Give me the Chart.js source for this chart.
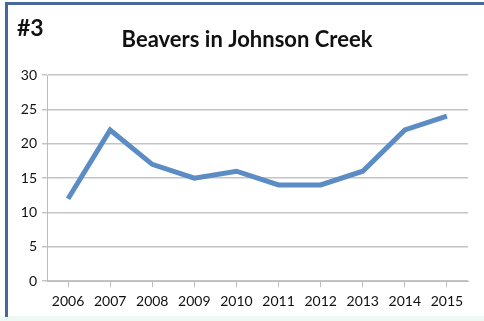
<!DOCTYPE html>
<html>
<head>
<meta charset="utf-8">
<script src="https://cdn.jsdelivr.net/npm/chart.js@4"></script>
<style>
  html, body { margin: 0; padding: 0; background: #fff; }
  #wrap { position: relative; width: 484px; height: 321px; }
</style>
</head>
<body>
<div id="wrap"><canvas id="beavers" width="484" height="321"></canvas></div>
<script>
const years = ['2006','2007','2008','2009','2010','2011','2012','2013','2014','2015']
const beaverCounts = [12, 22, 17, 15, 16, 14, 14, 16, 22, 24]
const yTicks = [0, 5, 10, 15, 20, 25, 30]
const titleText = 'Beavers in Johnson Creek'
const slideTag = '#3'

const fontFam = "Lato, 'Open Sans', sans-serif"

// frame lines + headings drawn straight onto the canvas
const framePlugin = {
  id: 'frame',
  beforeDraw(chart) {
    const c = chart.ctx
    c.save()
    c.fillStyle = '#fff'
    c.fillRect(0, 0, chart.width, chart.height)
    c.fillStyle = '#eef9f4'
    c.fillRect(0, 316, chart.width, 5)
    c.fillStyle = '#46689a'
    c.fillRect(5, 2, 3, 315)
    c.fillRect(5, 2, chart.width - 5, 3)
    c.restore()
  },
  afterDraw(chart) {
    const c = chart.ctx
    c.save()
    c.fillStyle = '#111'
    c.textBaseline = 'middle'
    c.font = 'bold 23px ' + fontFam
    c.textAlign = 'left'
    c.fillText(slideTag, 17, 29)
    c.font = 'bold 22px ' + fontFam
    c.textAlign = 'center'
    c.fillText(titleText, 247, 40)
    c.restore()
  }
}

let graph = new Chart(document.getElementById('beavers').getContext('2d'), {
  type: 'line',
  data: {
    labels: years,
    datasets: [{
      label: 'Beavers',
      data: beaverCounts,
      borderColor: '#5b8cc4',
      borderWidth: 5,
      pointRadius: 0,
      tension: 0,
      borderJoinStyle: 'miter'
    }]
  },
  options: {
    responsive: false,
    animation: false,
    layout: { padding: { left: 10, right: 16, top: 75, bottom: 5 } },
    plugins: { legend: { display: false }, tooltip: { enabled: false } },
    scales: {
      x: {
        offset: true,
        grid: { drawOnChartArea: false, drawTicks: true, tickLength: 6, color: '#bdbdbd' },
        border: { color: '#bdbdbd', width: 1 },
        ticks: { color: '#111', font: { family: fontFam, size: 14 }, padding: 6, maxRotation: 0 }
      },
      y: {
        min: 0,
        max: 30,
        afterBuildTicks(axis) { axis.ticks = yTicks.map(v => ({ value: v })) },
        afterFit(axis) { axis.width = 37 },
        grid: { color: '#c4c4c4', lineWidth: 1.5, tickLength: 5 },
        border: { color: '#bdbdbd', width: 1 },
        ticks: { color: '#111', font: { family: fontFam, size: 14 }, padding: 5 }
      }
    }
  },
  plugins: [framePlugin]
})
</script>
</body>
</html>
